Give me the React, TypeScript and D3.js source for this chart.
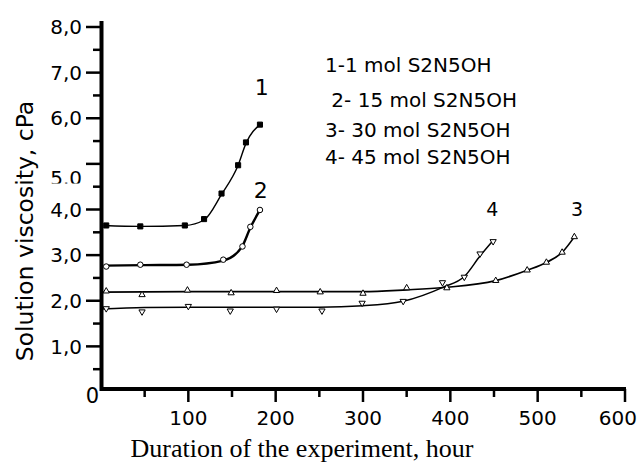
import React, { useEffect, useRef } from "react";
import * as d3 from "d3";

const W = 640;
const H = 462;

// Measured points (hours, cPa)
const s1Hours = [6, 45, 96, 118, 138, 157, 166, 182];
const s1Visc = [3.65, 3.63, 3.65, 3.79, 4.35, 4.97, 5.47, 5.86];
const s2Hours = [6, 45, 98, 140, 162, 171, 182];
const s2Visc = [2.75, 2.79, 2.79, 2.9, 3.19, 3.62, 3.99];
const s3Hours = [6, 47, 99, 149, 201, 251, 300, 350, 396, 452, 488, 510, 528, 542];
const s3Visc = [2.21, 2.13, 2.23, 2.17, 2.22, 2.19, 2.16, 2.28, 2.28, 2.44, 2.67, 2.84, 3.06, 3.4];
const s4Hours = [6, 47, 100, 148, 201, 253, 299, 346, 391, 416, 434, 449];
const s4Visc = [1.83, 1.76, 1.88, 1.78, 1.82, 1.78, 1.95, 1.99, 2.4, 2.52, 3.03, 3.3];

// Fitted curves as drawn in the figure
const fit1Hours = [3, 45, 96, 118, 138, 157, 166, 182];
const fit1Visc = [3.65, 3.63, 3.65, 3.77, 4.33, 4.97, 5.45, 5.86];
const fit2Hours = [3, 50, 100, 140, 161, 171, 182];
const fit2Visc = [2.77, 2.78, 2.79, 2.88, 3.17, 3.6, 3.99];
const fit3Hours = [0, 100, 200, 300, 350, 392, 452, 488, 510, 528, 542];
const fit3Visc = [2.19, 2.2, 2.2, 2.2, 2.24, 2.29, 2.44, 2.67, 2.84, 3.06, 3.4];
const fit4Hours = [0, 50, 100, 200, 250, 300, 346, 392, 416, 434, 449];
const fit4Visc = [1.82, 1.85, 1.86, 1.86, 1.86, 1.89, 1.99, 2.3, 2.53, 2.98, 3.32];

const seriesNames = ["1", "2", "3", "4"];
const legendLines = ["1-1 mol S2N5OH", " 2- 15 mol S2N5OH", "3- 30 mol S2N5OH", "4- 45 mol S2N5OH"];

const xMajor = [100, 200, 300, 400, 500, 600];
const xMinor = [50, 150, 250, 350, 450, 550];
const yMajor = [1, 2, 3, 4, 5, 6, 7, 8];
const yMinor = [0.5, 1.5, 2.5, 3.5, 4.5, 5.5, 6.5, 7.5];
const yTickLabels = ["1,0", "2,0", "3,0", "4,0", "5.0", "6,0", "7,0", "8,0"];

const SANS = "'DejaVu Sans', sans-serif";

const App = () => {
  const ref = useRef<SVGSVGElement | null>(null);

  useEffect(() => {
    if (!ref.current) return;
    const svg = d3.select(ref.current);
    svg.selectAll("*").remove();

    const x = d3.scaleLinear().domain([0, 600]).range([101, 625]);
    const y = d3.scaleLinear().domain([0, 8]).range([392, 27]);
    const axisY = y(0) - 3; // x axis sits a little above zero in the source

    // clip for the half-hidden "5.0" label
    svg
      .append("defs")
      .append("clipPath")
      .attr("id", "clip5")
      .append("rect")
      .attr("x", 0)
      .attr("y", 0)
      .attr("width", 100)
      .attr("height", 183.5);

    // Axes
    const ax = svg.append("g").attr("stroke", "#000");
    ax.append("line")
      .attr("x1", x(0) + 0.5)
      .attr("x2", x(0) + 0.5)
      .attr("y1", y(8) - 6)
      .attr("y2", axisY + 2)
      .attr("stroke-width", 4);
    ax.append("line")
      .attr("x1", x(0) - 1)
      .attr("x2", x(600) + 1)
      .attr("y1", axisY)
      .attr("y2", axisY)
      .attr("stroke-width", 4);

    ax.selectAll(".ymaj")
      .data(yMajor)
      .join("line")
      .attr("x1", x(0) - 15)
      .attr("x2", x(0))
      .attr("y1", (d) => y(d))
      .attr("y2", (d) => y(d))
      .attr("stroke-width", 2.5);
    ax.selectAll(".ymin")
      .data(yMinor)
      .join("line")
      .attr("class", "ymin")
      .attr("x1", x(0) - 8)
      .attr("x2", x(0))
      .attr("y1", (d) => y(d))
      .attr("y2", (d) => y(d))
      .attr("stroke-width", 2.5);
    ax.selectAll(".xmaj")
      .data(xMajor)
      .join("line")
      .attr("class", "xmaj")
      .attr("x1", (d) => x(d))
      .attr("x2", (d) => x(d))
      .attr("y1", axisY)
      .attr("y2", axisY + 13)
      .attr("stroke-width", 2.5);
    ax.selectAll(".xmin")
      .data(xMinor)
      .join("line")
      .attr("class", "xmin")
      .attr("x1", (d) => x(d))
      .attr("x2", (d) => x(d))
      .attr("y1", axisY)
      .attr("y2", axisY + 8)
      .attr("stroke-width", 2.5);

    // Tick labels
    svg
      .append("g")
      .selectAll("text")
      .data(yMajor)
      .join("text")
      .attr("x", 82)
      .attr("y", (d) => y(d))
      .attr("dy", (d, i) => (yTickLabels[i] === "5.0" ? "1.05em" : "0.36em"))
      .attr("clip-path", (d, i) => (yTickLabels[i] === "5.0" ? "url(#clip5)" : null))
      .attr("text-anchor", "end")
      .style("font-family", SANS)
      .style("font-size", "20px")
      .text((d, i) => yTickLabels[i]);

    svg
      .append("text")
      .attr("x", x(0) - 2)
      .attr("y", axisY + 13.5)
      .attr("text-anchor", "end")
      .style("font-family", SANS)
      .style("font-size", "21px")
      .text("0");

    // last label is pulled in so it stays inside the picture
    svg
      .append("g")
      .selectAll("text")
      .data(xMajor)
      .join("text")
      .attr("x", (d) => (d === 600 ? x(d) + 12 : x(d)))
      .attr("y", axisY + 36)
      .attr("text-anchor", (d) => (d === 600 ? "end" : "middle"))
      .style("font-family", SANS)
      .style("font-size", "20px")
      .text((d) => d);

    // Axis titles
    svg
      .append("text")
      .attr("x", 302)
      .attr("y", 457)
      .attr("text-anchor", "middle")
      .style("font-family", "'Liberation Serif', serif")
      .style("font-size", "26px")
      .text("Duration of the experiment, hour");

    svg
      .append("text")
      .attr("transform", "translate(33, 231) rotate(-90)")
      .attr("text-anchor", "middle")
      .style("font-family", SANS)
      .style("font-size", "23.5px")
      .text("Solution viscosity, cPa");

    // Fitted curves
    const line = d3
      .line<[number, number]>()
      .x((d) => x(d[0]))
      .y((d) => y(d[1]))
      .curve(d3.curveMonotoneX);

    const fits = [
      { h: fit1Hours, v: fit1Visc, w: 1.4 },
      { h: fit2Hours, v: fit2Visc, w: 2.4 },
      { h: fit3Hours, v: fit3Visc, w: 1.7 },
      { h: fit4Hours, v: fit4Visc, w: 1.5 },
    ];
    svg
      .append("g")
      .selectAll("path")
      .data(fits)
      .join("path")
      .attr("d", (f) => line(f.h.map((h, i) => [h, f.v[i]] as [number, number])))
      .attr("fill", "none")
      .attr("stroke", "#000")
      .attr("stroke-width", (f) => f.w);

    // Markers
    const markers = [
      { h: s1Hours, v: s1Visc, type: d3.symbolSquare, size: 26, fill: "#000", rot: 0 },
      { h: s2Hours, v: s2Visc, type: d3.symbolCircle, size: 24, fill: "#fff", rot: 0 },
      { h: s3Hours, v: s3Visc, type: d3.symbolTriangle, size: 17, fill: "#fff", rot: 0 },
      { h: s4Hours, v: s4Visc, type: d3.symbolTriangle, size: 17, fill: "#fff", rot: 180 },
    ];
    markers.forEach((m) => {
      const sym = d3.symbol().type(m.type).size(m.size);
      svg
        .append("g")
        .selectAll("path")
        .data(m.h.map((h, i) => [h, m.v[i]]))
        .join("path")
        .attr("d", sym() as string)
        .attr("transform", (d) => `translate(${x(d[0])}, ${y(d[1])}) rotate(${m.rot})`)
        .attr("fill", m.fill)
        .attr("stroke", "#000")
        .attr("stroke-width", 1);
    });

    // Series numbers next to the curve ends
    const labelPos = [
      { h: 184, v: 6.5, size: 22 },
      { h: 183, v: 4.26, size: 22 },
      { h: 545, v: 3.85, size: 19 },
      { h: 448, v: 3.85, size: 19 },
    ];
    svg
      .append("g")
      .selectAll("text")
      .data(labelPos)
      .join("text")
      .attr("x", (d) => x(d.h))
      .attr("y", (d) => y(d.v))
      .attr("text-anchor", "middle")
      .style("font-family", SANS)
      .style("font-size", (d) => `${d.size}px`)
      .text((d, i) => seriesNames[i]);

    // Legend text
    const legendBase = [72, 106.5, 136.5, 163.5];
    svg
      .append("g")
      .selectAll("text")
      .data(legendLines)
      .join("text")
      .attr("x", 325)
      .attr("y", (d, i) => legendBase[i])
      .attr("xml:space", "preserve")
      .style("white-space", "pre")
      .style("font-family", SANS)
      .style("font-size", "20px")
      .text((d) => d);
  }, []);

  return (
    <svg
      ref={ref}
      width={W}
      height={H}
      style={{ position: "absolute", left: 0, top: 0, background: "#fff" }}
    />
  );
};

export default App;
